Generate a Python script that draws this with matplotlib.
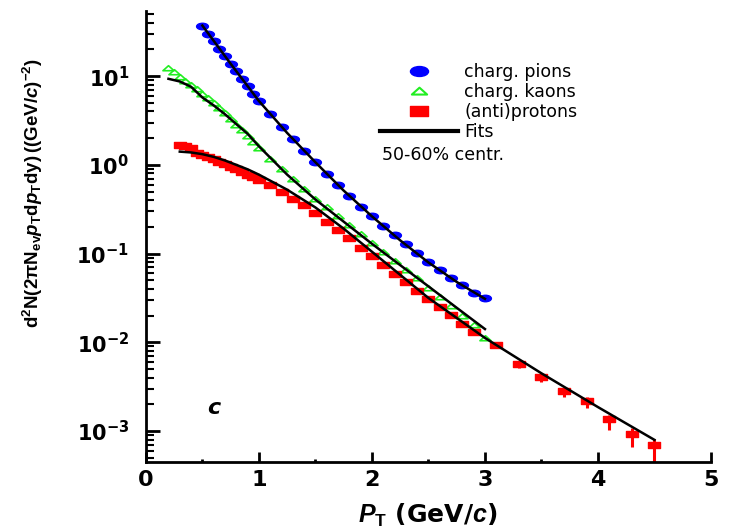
import matplotlib
matplotlib.use('Agg')
import matplotlib.pyplot as plt
from matplotlib.lines import Line2D
from matplotlib.path import Path
from matplotlib.transforms import Affine2D
from matplotlib.ticker import LogLocator, MultipleLocator, NullFormatter

plt.rcParams['font.family'] = ['DejaVu Sans']
plt.rcParams['font.weight'] = 'bold'
plt.rcParams['mathtext.fontset'] = 'custom'
plt.rcParams['mathtext.rm'] = 'Liberation Sans:bold'
plt.rcParams['mathtext.bf'] = 'Liberation Sans:bold'
plt.rcParams['mathtext.it'] = 'Liberation Sans:bold:italic'

# charged pions
pion_pt = [0.50, 0.55, 0.60, 0.65, 0.70, 0.75, 0.80, 0.85, 0.90, 0.95, 1.00,
           1.1, 1.2, 1.3, 1.4, 1.5, 1.6, 1.7, 1.8, 1.9, 2.0,
           2.1, 2.2, 2.3, 2.4, 2.5, 2.6, 2.7, 2.8, 2.9, 3.0]
pion_y = [37.2, 30.2, 25.1, 20.4, 17.0, 13.8, 11.5, 9.33, 7.76, 6.31, 5.25,
          3.72, 2.69, 1.95, 1.45, 1.07, 0.794, 0.589, 0.447, 0.339, 0.263,
          0.204, 0.162, 0.129, 0.102, 0.0813, 0.0661, 0.0537, 0.0437, 0.0363, 0.0316]

# charged kaons
kaon_pt = [0.20, 0.25, 0.30, 0.35, 0.40, 0.45, 0.50, 0.55, 0.60, 0.65, 0.70,
           0.75, 0.80, 0.85, 0.90, 0.95, 1.00,
           1.1, 1.2, 1.3, 1.4, 1.5, 1.6, 1.7, 1.8, 1.9, 2.0,
           2.1, 2.2, 2.3, 2.4, 2.5, 2.6, 2.7, 2.8, 2.9, 3.0]
kaon_y = [12.3, 11.2, 9.77, 8.71, 7.94, 7.08, 6.31, 5.62, 5.01, 4.37, 3.80,
          3.31, 2.82, 2.45, 2.09, 1.82, 1.55,
          1.17, 0.891, 0.692, 0.537, 0.417, 0.331, 0.263, 0.209, 0.166, 0.132,
          0.105, 0.0832, 0.0661, 0.0525, 0.0407, 0.0324, 0.0257, 0.0200, 0.0155, 0.0112]

# (anti)protons
proton_pt = [0.30, 0.35, 0.40, 0.45, 0.50, 0.55, 0.60, 0.65, 0.70, 0.75, 0.80,
             0.85, 0.90, 0.95, 1.00,
             1.1, 1.2, 1.3, 1.4, 1.5, 1.6, 1.7, 1.8, 1.9, 2.0,
             2.1, 2.2, 2.3, 2.4, 2.5, 2.6, 2.7, 2.8, 2.9,
             3.1, 3.3, 3.5, 3.7, 3.9, 4.1, 4.3, 4.5]
proton_y = [1.66, 1.62, 1.55, 1.35, 1.29, 1.23, 1.15, 1.07, 1.02, 0.955, 0.891,
            0.832, 0.776, 0.724, 0.676,
            0.589, 0.490, 0.417, 0.355, 0.288, 0.229, 0.186, 0.148, 0.117, 0.0933,
            0.0741, 0.0589, 0.0479, 0.0380, 0.0309, 0.0251, 0.0204, 0.0162, 0.0132,
            0.00933, 0.00575, 0.00407, 0.00282, 0.00219, 0.00135, 0.000933, 0.000692]
# relative errors (only visible at high pT)
proton_err_lo = [0.0] * 34 + [0.08, 0.10, 0.12, 0.15, 0.18, 0.24, 0.30, 0.35]
proton_err_hi = [0.0] * 34 + [0.03, 0.05, 0.06, 0.08, 0.10, 0.12, 0.15, 0.18]

# fits
pion_fit_pt = [0.5, 0.75, 1.0, 1.25, 1.5, 1.75, 2.0, 2.25, 2.5, 2.75, 3.0]
pion_fit = [37.2, 13.8, 5.25, 2.29, 1.07, 0.513, 0.263, 0.141, 0.0794, 0.0479, 0.0309]
kaon_fit_pt = [0.2, 0.3, 0.4, 0.5, 0.6, 0.7, 0.8, 0.9, 1.0, 1.25, 1.5, 1.75,
               2.0, 2.25, 2.5, 2.75, 3.0]
kaon_fit = [9.33, 8.71, 7.59, 5.75, 4.68, 3.72, 2.88, 2.24, 1.62, 0.776, 0.407, 0.229,
            0.129, 0.0741, 0.0427, 0.0245, 0.0141]
proton_fit_pt = [0.3, 0.4, 0.5, 0.6, 0.7, 0.8, 0.9, 1.0, 1.25, 1.5, 1.75, 2.0,
                 2.5, 3.0, 3.5, 4.0, 4.5]
proton_fit = [1.41, 1.38, 1.32, 1.23, 1.12, 1.00, 0.891, 0.776, 0.525, 0.331, 0.191, 0.105,
              0.0316, 0.0112, 0.00447, 0.00186, 0.000794]

blue = '#0000ff'
green = '#22ee22'
red = '#ff0000'

# the original picture is stretched sideways, so its markers are wide
wide_circle = Path.unit_circle().transformed(Affine2D().scale(1.0, 0.55))
wide_square = Path([(-1, -0.5), (1, -0.5), (1, 0.5), (-1, 0.5), (-1, -0.5)],
                   [Path.MOVETO, Path.LINETO, Path.LINETO, Path.LINETO, Path.CLOSEPOLY])
wide_tri = Path([(-1, -0.4), (1, -0.4), (0, 0.5), (-1, -0.4)],
                [Path.MOVETO, Path.LINETO, Path.LINETO, Path.CLOSEPOLY])

fig = plt.figure(figsize=(7.33, 5.32), dpi=100)
ax = fig.add_axes([0.199, 0.132, 0.771, 0.847])

ax.plot(pion_pt, pion_y, ls='none', marker=wide_circle, color=blue, ms=8.5, zorder=2)
ax.plot(kaon_pt, kaon_y, ls='none', marker=wide_tri, mfc='none', mec=green, ms=8,
        mew=1.2, zorder=2)
lo = [e * y for e, y in zip(proton_err_lo, proton_y)]
hi = [e * y for e, y in zip(proton_err_hi, proton_y)]
ax.errorbar(proton_pt, proton_y, yerr=[lo, hi], fmt='none', ecolor=red,
            elinewidth=2.2, capsize=0, zorder=2)
ax.plot(proton_pt, proton_y, ls='none', marker=wide_square, color=red, ms=9, zorder=2)

for fx, fy in [(pion_fit_pt, pion_fit), (kaon_fit_pt, kaon_fit), (proton_fit_pt, proton_fit)]:
    ax.plot(fx, fy, '-', color='black', lw=1.8, zorder=3)

ax.set_yscale('log')
ax.set_xlim(0, 5)
ax.set_ylim(4.5e-4, 54)

ax.spines['top'].set_visible(False)
ax.spines['right'].set_visible(False)
ax.spines['left'].set_linewidth(2)
ax.spines['bottom'].set_linewidth(2)

ax.xaxis.set_major_locator(MultipleLocator(1))
ax.xaxis.set_minor_locator(MultipleLocator(0.5))
ax.yaxis.set_major_locator(LogLocator(base=10, numticks=10))
ax.yaxis.set_minor_locator(LogLocator(base=10, subs=range(2, 10), numticks=20))
ax.yaxis.set_minor_formatter(NullFormatter())
ax.tick_params(which='both', direction='in', top=False, right=False)
ax.tick_params(axis='y', which='major', length=10, width=2, labelsize=15, pad=12)
ax.tick_params(axis='y', which='minor', length=6, width=1.5)
ax.tick_params(axis='x', which='major', length=7, width=2, labelsize=16, pad=6)
ax.tick_params(axis='x', which='minor', length=2, width=2)

ax.text(0.6, 1.8e-3, 'c', fontsize=16, fontweight='bold', fontstyle='italic',
        ha='center', va='center')

fig.text(428 / 733, 1 - 515 / 532, r'$\mathit{P}_\mathrm{T}$ (GeV/$\mathit{c}$)',
         fontsize=18, fontweight='bold', ha='center', va='center')
fig.text(33 / 733, 1 - 193 / 532,
         r'$\mathrm{d^2N(2\pi N_{ev}}\mathit{p}_\mathrm{T}\mathrm{d}\mathit{p}_\mathrm{T}'
         r'\mathrm{dy)\,((GeV/}\mathit{c}\mathrm{)^{-2})}$',
         fontsize=13.5, rotation=90, ha='center', va='center')

handles = [
    Line2D([], [], ls='none', marker=wide_circle, color=blue, ms=13),
    Line2D([], [], ls='none', marker=wide_tri, mfc='none', mec=green, ms=11, mew=1.5),
    Line2D([], [], ls='none', marker=wide_square, color=red, ms=13),
    Line2D([], [], ls='-', color='black', lw=3),
]
labels = ['charg. pions', 'charg. kaons', '(anti)protons', 'Fits']
ax.legend(handles, labels, loc='upper left', bbox_to_anchor=(380 / 733, 1 - 63 / 532),
          bbox_transform=fig.transFigure, frameon=False,
          prop={'weight': 'normal', 'size': 12.5}, handlelength=4.5,
          handletextpad=0.35, labelspacing=0.12, borderpad=0, borderaxespad=0)
fig.text(382 / 733, 1 - 155 / 532, '50-60% centr.', fontsize=12.5,
         fontweight='normal', ha='left', va='center')

fig.savefig('out.png', dpi=100)
